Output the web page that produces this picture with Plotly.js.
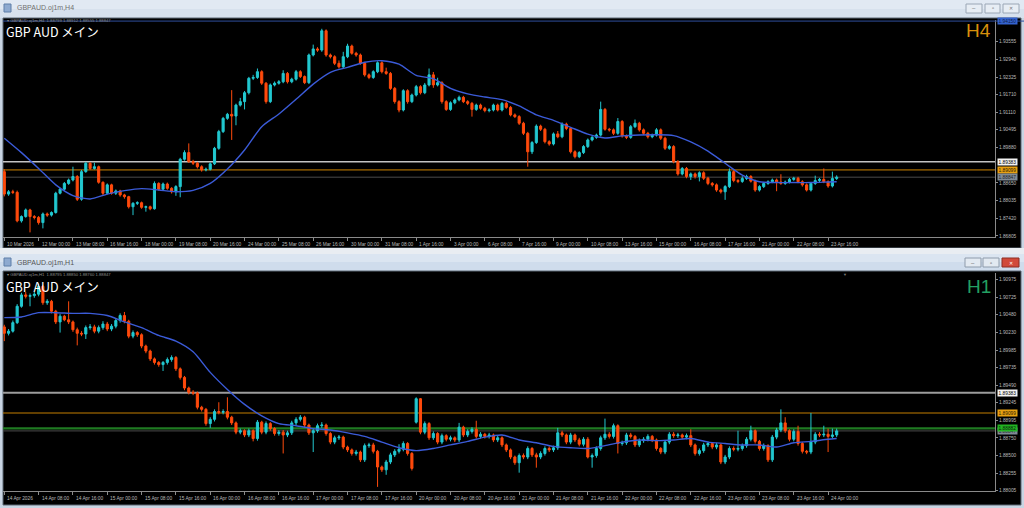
<!DOCTYPE html>
<html><head><meta charset="utf-8">
<script src="https://cdn.plot.ly/plotly-3.0.1.min.js"></script>
<style>html,body{margin:0;padding:0;background:#c9d5e3;overflow:hidden}#chart{width:1024px;height:508px}</style>
</head><body><div id="chart"></div>
<script>
// ---------------- H4 window data ----------------
const h4Labels = ["10 Mar 2026","12 Mar 00:00","13 Mar 08:00","16 Mar 16:00","18 Mar 00:00","19 Mar 08:00","20 Mar 16:00","24 Mar 00:00","25 Mar 08:00","26 Mar 16:00","30 Mar 00:00","31 Mar 08:00","1 Apr 16:00","3 Apr 00:00","6 Apr 08:00","7 Apr 16:00","9 Apr 00:00","10 Apr 08:00","13 Apr 16:00","15 Apr 00:00","16 Apr 08:00","17 Apr 16:00","21 Apr 00:00","22 Apr 08:00","23 Apr 16:00"];
const h4Close = [1.8826,1.8834,1.8832,1.8733,1.8748,1.8771,1.8748,1.8745,1.8727,1.8757,1.8753,1.8762,1.8829,1.8843,1.8863,1.8875,1.8887,1.8808,1.8904,1.8933,1.8915,1.8921,1.8867,1.8829,1.8858,1.8829,1.8837,1.8823,1.8817,1.8782,1.8794,1.8796,1.8780,1.8782,1.8775,1.8863,1.8843,1.8861,1.8846,1.8834,1.8852,1.8947,1.8970,1.8939,1.8933,1.8921,1.8910,1.8912,1.8931,1.8985,1.9043,1.9089,1.9103,1.9097,1.9135,1.9147,1.9178,1.9228,1.9231,1.9251,1.9211,1.9147,1.9205,1.9211,1.9216,1.9245,1.9216,1.9225,1.9251,1.9234,1.9213,1.9309,1.9330,1.9326,1.9393,1.9309,1.9303,1.9280,1.9268,1.9303,1.9340,1.9315,1.9309,1.9280,1.9240,1.9231,1.9251,1.9282,1.9251,1.9245,1.9193,1.9147,1.9118,1.9185,1.9147,1.9170,1.9199,1.9178,1.9205,1.9240,1.9205,1.9213,1.9147,1.9120,1.9143,1.9153,1.9162,1.9147,1.9141,1.9120,1.9135,1.9124,1.9116,1.9118,1.9135,1.9118,1.9141,1.9127,1.9101,1.9095,1.9072,1.9037,1.8973,1.9005,1.9062,1.9051,1.9008,1.9000,1.9035,1.9025,1.9069,1.9054,1.8973,1.8956,1.8970,1.8991,1.9014,1.9023,1.9031,1.9120,1.9051,1.9049,1.9037,1.9078,1.9028,1.9023,1.9060,1.9072,1.9049,1.9037,1.9025,1.9031,1.9049,1.9020,1.8985,1.8991,1.8939,1.8896,1.8915,1.8887,1.8896,1.8887,1.8900,1.8881,1.8863,1.8858,1.8840,1.8834,1.8852,1.8904,1.8873,1.8870,1.8880,1.8887,1.8871,1.8840,1.8852,1.8863,1.8869,1.8875,1.8868,1.8863,1.8868,1.8877,1.8881,1.8869,1.8858,1.8840,1.8863,1.8873,1.8877,1.8869,1.8854,1.8880,1.88847];
const h4Open = [1.8904,1.8826,1.8834,1.8832,1.8733,1.8748,1.8771,1.8748,1.8745,1.8727,1.8757,1.8753,1.8762,1.8829,1.8843,1.8863,1.8875,1.8887,1.8808,1.8904,1.8933,1.8915,1.8921,1.8867,1.8829,1.8858,1.8829,1.8837,1.8823,1.8817,1.8782,1.8794,1.8796,1.8780,1.8782,1.8775,1.8863,1.8843,1.8861,1.8846,1.8834,1.8852,1.8947,1.8970,1.8939,1.8933,1.8921,1.8910,1.8912,1.8931,1.8985,1.9043,1.9089,1.9103,1.9097,1.9135,1.9147,1.9178,1.9228,1.9231,1.9251,1.9211,1.9147,1.9205,1.9211,1.9216,1.9245,1.9216,1.9225,1.9251,1.9234,1.9213,1.9309,1.9330,1.9326,1.9393,1.9309,1.9303,1.9280,1.9268,1.9303,1.9340,1.9315,1.9309,1.9280,1.9240,1.9231,1.9251,1.9282,1.9251,1.9245,1.9193,1.9147,1.9118,1.9185,1.9147,1.9170,1.9199,1.9178,1.9205,1.9240,1.9205,1.9213,1.9147,1.9120,1.9143,1.9153,1.9162,1.9147,1.9141,1.9120,1.9135,1.9124,1.9116,1.9118,1.9135,1.9118,1.9141,1.9127,1.9101,1.9095,1.9072,1.9037,1.8973,1.9005,1.9062,1.9051,1.9008,1.9000,1.9035,1.9025,1.9069,1.9054,1.8973,1.8956,1.8970,1.8991,1.9014,1.9023,1.9031,1.9120,1.9051,1.9049,1.9037,1.9078,1.9028,1.9023,1.9060,1.9072,1.9049,1.9037,1.9025,1.9031,1.9049,1.9020,1.8985,1.8991,1.8939,1.8896,1.8915,1.8887,1.8896,1.8887,1.8900,1.8881,1.8863,1.8858,1.8840,1.8834,1.8852,1.8904,1.8873,1.8870,1.8880,1.8887,1.8871,1.8840,1.8852,1.8863,1.8869,1.8875,1.8868,1.8863,1.8868,1.8877,1.8881,1.8869,1.8858,1.8840,1.8863,1.8873,1.8877,1.8869,1.8854,1.8880];
const h4High = [1.8912,1.8840,1.8841,1.8838,1.8752,1.8776,1.8775,1.8753,1.8750,1.8762,1.8762,1.8766,1.8834,1.8848,1.8868,1.8880,1.8921,1.8892,1.8910,1.8938,1.8937,1.8935,1.8925,1.8870,1.8863,1.8862,1.8842,1.8841,1.8827,1.8820,1.8798,1.8801,1.8800,1.8786,1.8786,1.8870,1.8867,1.8866,1.8866,1.8850,1.8857,1.8952,1.8978,1.9002,1.8945,1.8938,1.8926,1.8918,1.8936,1.8990,1.9049,1.9094,1.9108,1.9187,1.9140,1.9160,1.9184,1.9233,1.9240,1.9262,1.9256,1.9215,1.9210,1.9217,1.9222,1.9256,1.9250,1.9230,1.9257,1.9256,1.9238,1.9314,1.9345,1.9336,1.9400,1.9398,1.9314,1.9308,1.9290,1.9320,1.9348,1.9345,1.9320,1.9314,1.9285,1.9245,1.9256,1.9287,1.9287,1.9265,1.9250,1.9198,1.9152,1.9190,1.9190,1.9175,1.9205,1.9204,1.9212,1.9262,1.9250,1.9230,1.9218,1.9152,1.9148,1.9158,1.9168,1.9167,1.9152,1.9146,1.9140,1.9140,1.9129,1.9124,1.9140,1.9140,1.9146,1.9147,1.9132,1.9106,1.9100,1.9077,1.9042,1.9010,1.9068,1.9067,1.9056,1.9013,1.9040,1.9045,1.9075,1.9074,1.9059,1.8978,1.8975,1.8996,1.9019,1.9028,1.9036,1.9147,1.9125,1.9056,1.9054,1.9090,1.9083,1.9033,1.9066,1.9085,1.9077,1.9054,1.9042,1.9036,1.9055,1.9054,1.9025,1.8997,1.8996,1.8944,1.8920,1.8920,1.8901,1.8901,1.8905,1.8905,1.8886,1.8868,1.8863,1.8845,1.8857,1.8915,1.8909,1.8878,1.8888,1.8893,1.8892,1.8876,1.8857,1.8868,1.8874,1.8880,1.8880,1.8895,1.8873,1.8882,1.8886,1.8886,1.8874,1.8863,1.8868,1.8890,1.8882,1.8915,1.8874,1.8904,1.8891];
const h4Low = [1.8818,1.8820,1.8826,1.8728,1.8727,1.8744,1.8693,1.8738,1.8720,1.8707,1.8747,1.8748,1.8758,1.8825,1.8838,1.8858,1.8870,1.8802,1.8803,1.8900,1.8910,1.8911,1.8862,1.8822,1.8825,1.8824,1.8823,1.8817,1.8810,1.8776,1.8753,1.8788,1.8775,1.8765,1.8770,1.8772,1.8838,1.8839,1.8841,1.8828,1.8820,1.8815,1.8942,1.8934,1.8927,1.8915,1.8904,1.8905,1.8908,1.8927,1.8980,1.9038,1.9084,1.9014,1.9065,1.9130,1.9120,1.9172,1.9222,1.9226,1.9205,1.9140,1.9142,1.9200,1.9206,1.9211,1.9210,1.9211,1.9220,1.9229,1.9208,1.9208,1.9304,1.9320,1.9320,1.9303,1.9297,1.9274,1.9262,1.9263,1.9298,1.9310,1.9303,1.9275,1.9234,1.9225,1.9226,1.9246,1.9245,1.9240,1.9188,1.9140,1.9110,1.9113,1.9140,1.9142,1.9165,1.9172,1.9173,1.9200,1.9195,1.9200,1.9140,1.9115,1.9115,1.9138,1.9148,1.9142,1.9135,1.9095,1.9115,1.9119,1.9110,1.9110,1.9113,1.9113,1.9113,1.9122,1.9096,1.9090,1.9066,1.9031,1.8921,1.8965,1.9000,1.9045,1.9002,1.8994,1.8995,1.9020,1.9020,1.9048,1.8967,1.8950,1.8951,1.8965,1.8986,1.9009,1.9018,1.9026,1.9046,1.9043,1.9031,1.9032,1.9022,1.9017,1.9018,1.9055,1.9043,1.9031,1.9019,1.9020,1.9026,1.9014,1.8979,1.8980,1.8933,1.8890,1.8891,1.8881,1.8875,1.8880,1.8870,1.8875,1.8857,1.8852,1.8834,1.8828,1.8806,1.8847,1.8867,1.8864,1.8865,1.8875,1.8866,1.8834,1.8835,1.8847,1.8858,1.8864,1.8836,1.8858,1.8858,1.8863,1.8872,1.8864,1.8852,1.8835,1.8835,1.8858,1.8868,1.8864,1.8848,1.8849,1.8875];
const h4MaIdx = [0,4,8,12,16,20,24,28,32,36,40,44,48,52,56,60,64,68,72,76,80,84,88,92,96,100,104,108,112,116,120,124,128,132,136,140,144,148,152,156,160,164,168,172,176,180,184,188,192,194];
const h4Ma = [1.9020,1.8970,1.8915,1.8858,1.8821,1.8809,1.8826,1.8838,1.8845,1.8840,1.8834,1.8839,1.8863,1.8913,1.8979,1.9060,1.9104,1.9155,1.9208,1.9249,1.9266,1.9284,1.9289,1.9277,1.9238,1.9227,1.9193,1.9174,1.9163,1.9154,1.9132,1.9101,1.9082,1.9058,1.9034,1.9021,1.9028,1.9031,1.9032,1.9029,1.9007,1.8975,1.8933,1.8892,1.8869,1.8866,1.8866,1.8866,1.8868,1.8869];
const h4YTicks = [1.93555,1.92940,1.92325,1.91710,1.91110,1.90495,1.89880,1.88650,1.88035,1.87420,1.86805];
const h4Levels = [1.89383,1.89099,1.88847];
const h4TopLevelText = "1.94150";

// ---------------- H1 window data ----------------
const h1Labels = ["14 Apr 2026","14 Apr 08:00","14 Apr 16:00","15 Apr 00:00","15 Apr 08:00","15 Apr 16:00","16 Apr 00:00","16 Apr 08:00","16 Apr 16:00","17 Apr 00:00","17 Apr 08:00","17 Apr 16:00","20 Apr 00:00","20 Apr 08:00","20 Apr 16:00","21 Apr 00:00","21 Apr 08:00","21 Apr 16:00","22 Apr 00:00","22 Apr 08:00","22 Apr 16:00","23 Apr 00:00","23 Apr 08:00","23 Apr 16:00","24 Apr 00:00"];
const h1Open = [1.9031,1.9022,1.9025,1.9037,1.9060,1.9076,1.9074,1.9075,1.9077,1.9088,1.9065,1.9067,1.9053,1.9038,1.9046,1.9041,1.9038,1.9027,1.9022,1.9021,1.9030,1.9031,1.9025,1.9030,1.9035,1.9028,1.9032,1.9040,1.9047,1.9039,1.9018,1.9023,1.9020,1.9004,1.8997,1.8986,1.8981,1.8978,1.8981,1.8985,1.8988,1.8972,1.8960,1.8945,1.8939,1.8938,1.8918,1.8915,1.8895,1.8901,1.8912,1.8911,1.8912,1.8904,1.8896,1.8883,1.8885,1.8879,1.8885,1.8874,1.8897,1.8883,1.8895,1.8888,1.8881,1.8883,1.8879,1.8882,1.8896,1.8901,1.8904,1.8893,1.8882,1.8885,1.8892,1.8893,1.8881,1.8869,1.8875,1.8876,1.8862,1.8858,1.8853,1.8855,1.8844,1.8864,1.8865,1.8856,1.8834,1.8830,1.8841,1.8851,1.8856,1.8859,1.8867,1.8853,1.8897,1.8930,1.8883,1.8895,1.8875,1.8881,1.8869,1.8878,1.8873,1.8875,1.8872,1.8890,1.8879,1.8884,1.8887,1.8877,1.8880,1.8877,1.8879,1.8872,1.8875,1.8865,1.8858,1.8848,1.8840,1.8850,1.8848,1.8860,1.8851,1.8848,1.8853,1.8860,1.8858,1.8861,1.8882,1.8879,1.8869,1.8879,1.8872,1.8866,1.8873,1.8848,1.8850,1.8860,1.8875,1.8880,1.8877,1.8892,1.8867,1.8868,1.8879,1.8877,1.8865,1.8871,1.8873,1.8877,1.8872,1.8860,1.8855,1.8869,1.8880,1.8878,1.8879,1.8876,1.8878,1.8865,1.8853,1.8857,1.8865,1.8867,1.8862,1.8865,1.8841,1.8848,1.8860,1.8859,1.8860,1.8864,1.8873,1.8885,1.8870,1.8860,1.8864,1.8844,1.8876,1.8886,1.8896,1.8885,1.8873,1.8884,1.8867,1.8856,1.8855,1.8869,1.8880,1.8879,1.8880,1.8877,1.8879];
const h1Close = [1.9022,1.9025,1.9037,1.9060,1.9076,1.9074,1.9075,1.9077,1.9088,1.9065,1.9067,1.9053,1.9038,1.9046,1.9041,1.9038,1.9027,1.9022,1.9021,1.9030,1.9031,1.9025,1.9030,1.9035,1.9028,1.9032,1.9040,1.9047,1.9039,1.9018,1.9023,1.9020,1.9004,1.8997,1.8986,1.8981,1.8978,1.8981,1.8985,1.8988,1.8972,1.8960,1.8945,1.8939,1.8938,1.8918,1.8915,1.8895,1.8901,1.8912,1.8911,1.8912,1.8904,1.8896,1.8883,1.8885,1.8879,1.8885,1.8874,1.8897,1.8883,1.8895,1.8888,1.8881,1.8883,1.8879,1.8882,1.8896,1.8901,1.8904,1.8893,1.8882,1.8885,1.8892,1.8893,1.8881,1.8869,1.8875,1.8876,1.8862,1.8858,1.8853,1.8855,1.8844,1.8864,1.8865,1.8856,1.8834,1.8830,1.8841,1.8851,1.8856,1.8859,1.8867,1.8853,1.8832,1.8930,1.8883,1.8895,1.8875,1.8881,1.8869,1.8878,1.8873,1.8875,1.8872,1.8890,1.8879,1.8884,1.8887,1.8877,1.8880,1.8877,1.8879,1.8872,1.8875,1.8865,1.8858,1.8848,1.8840,1.8850,1.8848,1.8860,1.8851,1.8848,1.8853,1.8860,1.8858,1.8861,1.8882,1.8879,1.8869,1.8879,1.8872,1.8866,1.8873,1.8848,1.8850,1.8860,1.8875,1.8880,1.8877,1.8892,1.8867,1.8868,1.8879,1.8877,1.8865,1.8871,1.8873,1.8877,1.8872,1.8860,1.8855,1.8869,1.8880,1.8878,1.8879,1.8876,1.8878,1.8865,1.8853,1.8857,1.8865,1.8867,1.8862,1.8865,1.8841,1.8848,1.8860,1.8859,1.8860,1.8864,1.8873,1.8885,1.8870,1.8860,1.8864,1.8844,1.8876,1.8886,1.8896,1.8885,1.8873,1.8884,1.8867,1.8856,1.8855,1.8869,1.8880,1.8879,1.8880,1.8877,1.8879,1.88847];
const h1High = [1.9034,1.9028,1.9040,1.9063,1.9079,1.9080,1.9078,1.9080,1.9092,1.9090,1.9070,1.9069,1.9055,1.9049,1.9048,1.9067,1.9040,1.9030,1.9025,1.9033,1.9035,1.9034,1.9033,1.9039,1.9038,1.9035,1.9043,1.9050,1.9052,1.9041,1.9026,1.9025,1.9022,1.9006,1.8999,1.8988,1.8983,1.8983,1.8988,1.8991,1.8990,1.8974,1.8962,1.8947,1.8942,1.8940,1.8920,1.8917,1.8904,1.8915,1.8925,1.8915,1.8932,1.8906,1.8898,1.8888,1.8887,1.8888,1.8887,1.8900,1.8899,1.8898,1.8897,1.8890,1.8886,1.8886,1.8885,1.8899,1.8904,1.8907,1.8906,1.8895,1.8888,1.8895,1.8897,1.8895,1.8883,1.8878,1.8879,1.8878,1.8864,1.8860,1.8858,1.8857,1.8867,1.8868,1.8868,1.8858,1.8836,1.8844,1.8854,1.8859,1.8866,1.8870,1.8869,1.8855,1.8932,1.8931,1.8898,1.8897,1.8884,1.8883,1.8881,1.8880,1.8878,1.8877,1.8896,1.8892,1.8887,1.8890,1.8899,1.8883,1.8882,1.8882,1.8881,1.8878,1.8877,1.8867,1.8860,1.8850,1.8853,1.8853,1.8863,1.8862,1.8854,1.8856,1.8863,1.8863,1.8864,1.8889,1.8885,1.8881,1.8882,1.8881,1.8875,1.8876,1.8876,1.8853,1.8863,1.8878,1.8902,1.8883,1.8895,1.8894,1.8871,1.8882,1.8882,1.8879,1.8874,1.8876,1.8880,1.8879,1.8874,1.8862,1.8872,1.8883,1.8883,1.8882,1.8881,1.8881,1.8887,1.8867,1.8860,1.8868,1.8870,1.8869,1.8868,1.8867,1.8851,1.8863,1.8863,1.8885,1.8867,1.8876,1.8892,1.8887,1.8872,1.8867,1.8866,1.8879,1.8889,1.8915,1.8904,1.8887,1.8887,1.8892,1.8869,1.8858,1.8910,1.8883,1.8883,1.8892,1.8888,1.8888,1.8888];
const h1Low = [1.9011,1.9019,1.9023,1.9035,1.9058,1.9071,1.9060,1.9072,1.9074,1.9062,1.9062,1.9050,1.9035,1.9023,1.9039,1.9035,1.9024,1.9005,1.9018,1.9014,1.9027,1.9022,1.9022,1.9027,1.9025,1.9025,1.9029,1.9037,1.9036,1.9015,1.9015,1.9017,1.9001,1.8994,1.8983,1.8978,1.8975,1.8969,1.8978,1.8982,1.8969,1.8957,1.8942,1.8936,1.8935,1.8915,1.8912,1.8892,1.8889,1.8898,1.8908,1.8908,1.8901,1.8893,1.8880,1.8880,1.8876,1.8876,1.8870,1.8871,1.8880,1.8880,1.8885,1.8878,1.8878,1.8853,1.8876,1.8879,1.8893,1.8898,1.8890,1.8879,1.8855,1.8882,1.8889,1.8878,1.8866,1.8866,1.8872,1.8859,1.8855,1.8850,1.8850,1.8841,1.8841,1.8861,1.8853,1.8806,1.8827,1.8823,1.8838,1.8848,1.8853,1.8856,1.8850,1.8829,1.8895,1.8880,1.8880,1.8872,1.8872,1.8866,1.8866,1.8870,1.8870,1.8869,1.8869,1.8876,1.8876,1.8881,1.8874,1.8874,1.8874,1.8874,1.8869,1.8869,1.8862,1.8855,1.8845,1.8837,1.8826,1.8845,1.8845,1.8848,1.8833,1.8845,1.8850,1.8855,1.8855,1.8858,1.8876,1.8866,1.8866,1.8869,1.8863,1.8863,1.8846,1.8833,1.8847,1.8857,1.8872,1.8874,1.8874,1.8853,1.8864,1.8865,1.8874,1.8862,1.8862,1.8868,1.8870,1.8869,1.8857,1.8852,1.8852,1.8866,1.8875,1.8875,1.8873,1.8873,1.8862,1.8850,1.8850,1.8854,1.8862,1.8859,1.8859,1.8838,1.8838,1.8845,1.8856,1.8856,1.8857,1.8861,1.8870,1.8867,1.8857,1.8857,1.8841,1.8841,1.8873,1.8883,1.8882,1.8870,1.8870,1.8864,1.8853,1.8852,1.8852,1.8866,1.8876,1.8876,1.8855,1.8874,1.8876];
const h1MaIdx = [0,4,8,12,16,20,24,28,32,36,40,44,48,52,56,60,64,68,72,76,80,84,88,92,96,100,104,108,112,116,120,124,128,132,136,140,144,148,152,156,160,164,168,172,176,180,184,188,192,194];
const h1Ma = [1.9044,1.9045,1.9051,1.9051,1.9050,1.9050,1.9047,1.9038,1.9030,1.9019,1.9011,1.8996,1.8967,1.8943,1.8922,1.8906,1.8895,1.8892,1.8888,1.8886,1.8882,1.8877,1.8869,1.8861,1.8857,1.8860,1.8865,1.8870,1.8876,1.8879,1.8872,1.8868,1.8863,1.8861,1.8860,1.8864,1.8869,1.8872,1.8871,1.8872,1.8874,1.8869,1.8867,1.8865,1.8865,1.8862,1.8868,1.8870,1.8873,1.8874];
const h1YTicks = [1.90975,1.90725,1.90480,1.90230,1.89985,1.89735,1.89490,1.89245,1.88995,1.88750,1.88500,1.88255,1.88005];
const h1Levels = [1.89383,1.89099,1.88847,1.88882];

// ---------------- layout helpers ----------------
const W = 1024, H = 508;
const px = v => v / W, py = v => 1 - v / H;
const BULL = '#22c8d0', BEAR = '#ff4a0c';
const AX = '#8a8a8a', TXT = '#b9b9b9', FF = 'Liberation Sans, Arial, sans-serif';
const shapes = [], ann = [];
function rect(x0, y0, x1, y1, fill, line, lw) {
  shapes.push({type:'rect', xref:'paper', yref:'paper', layer:'below', x0:px(x0), x1:px(x1), y0:py(y1), y1:py(y0),
    fillcolor:fill, line:{color:line || fill, width: lw === undefined ? 0 : lw}});
}
function txt(x, y, t, size, color, anchor, family) {
  ann.push({xref:'paper', yref:'paper', x:px(x), y:py(y), text:t, showarrow:false, xanchor:anchor || 'left', yanchor:'middle',
    font:{size:size, color:color, family:family || FF}});
}
// window chrome
rect(0, 0, 1024, 18, '#e1e9f3');
rect(0, 9, 1024, 18, '#d7e1ed');
rect(3, 18, 1021, 248, '#000000', '#5d6874', 1);
rect(0, 248, 1024, 254, '#e9edf2');
rect(0, 254, 1024, 271, '#cfdcec');
rect(0, 254, 1024, 262, '#dbe5f1');
rect(3, 271, 1021, 505, '#000000', '#5d6874', 1);
rect(4, 4, 11, 12, '#8eaad0', '#5f7ea8', 1);
rect(4, 258, 11, 266, '#8eaad0', '#5f7ea8', 1);
txt(15, 8.5, 'GBPAUD.oj1m,H4', 7, '#707070');
txt(15, 262.5, 'GBPAUD.oj1m,H1', 7, '#555555');
[[966,982],[985,1000],[1003,1019]].forEach(b => rect(b[0], 4, b[1], 13, '#e7edf4', '#9aa6b5', 1));
[[965,981],[983,999]].forEach(b => rect(b[0], 258, b[1], 267, '#e2e9f1', '#8e9bab', 1));
rect(1002, 258, 1019, 267, '#d14a3a', '#8d2d22', 1);
txt(974, 8.5, '–', 6, '#666', 'center'); txt(992.5, 8.5, '▫', 6, '#666', 'center'); txt(1011, 8.5, '✕', 5, '#777', 'center');
txt(973, 262.5, '–', 6, '#555', 'center'); txt(991, 262.5, '▫', 6, '#555', 'center'); txt(1010.5, 262.5, '✕', 5, '#ffffff', 'center');

// chart texts
txt(5, 20.6, '▾ GBPAUD.oj1m,H4  1.88799 1.88912 1.88555 1.88847', 4.2, '#8c8c8c');
txt(5, 274.6, '▾ GBPAUD.oj1m,H1  1.88795 1.88850 1.88760 1.88847', 4.2, '#8c8c8c');
txt(4, 31, 'GBP AUD メイン', 12.5, '#ffffff', 'left', 'Noto Sans CJK JP, Liberation Sans, sans-serif');
txt(4, 286, 'GBP AUD メイン', 12.5, '#ffffff', 'left', 'Noto Sans CJK JP, Liberation Sans, sans-serif');
txt(993, 30, 'H4', 19, '#d8900c', 'right');
txt(993, 286, 'H1', 19, '#23a062', 'right');
txt(845, 274, '▼', 4, '#7a7a7a', 'center');

// x labels (left-anchored after tick mark, like the terminal)
const h4TickIdx = h4Labels.map((_, k) => k * 8);
const h1TickIdx = h1Labels.map((_, k) => k * 8);
h4Labels.forEach((t, k) => ann.push({xref:'x', yref:'paper', x:h4TickIdx[k], y:py(239.5), xanchor:'left', yanchor:'top', xshift:1,
  text:t, showarrow:false, font:{size:4.8, color:TXT, family:FF}}));
h1Labels.forEach((t, k) => ann.push({xref:'x2', yref:'paper', x:h1TickIdx[k], y:py(494), xanchor:'left', yanchor:'top', xshift:1,
  text:t, showarrow:false, font:{size:4.8, color:TXT, family:FF}}));

// level lines
const h4LvlStyle = [['#c4c4c4',1.5],['#cf8400',1],['#4b4b4b',1]];
h4Levels.forEach((v, k) => shapes.push({type:'line', xref:'x domain', yref:'y', x0:0, x1:1, y0:v, y1:v, layer:'below',
  line:{color:h4LvlStyle[k][0], width:h4LvlStyle[k][1]}}));
shapes.push({type:'line', xref:'x domain', yref:'y domain', x0:0, x1:1.03, y0:0.995, y1:0.995, line:{color:'#2f4f9e', width:1}});
const h1LvlStyle = [['#9c9c9c',2],['#c47e00',1],['#4b4b4b',1],['#1f7a22',2.2]];
h1Levels.forEach((v, k) => shapes.push({type:'line', xref:'x2 domain', yref:'y2', x0:0, x1:1, y0:v, y1:v, layer:'below',
  line:{color:h1LvlStyle[k][0], width:h1LvlStyle[k][1]}}));

// right-side price boxes
function pbox(yref, v, text, bg, fg) {
  ann.push({xref:'paper', yref:yref, x:px(997), y:v, xanchor:'left', yanchor:'middle', text:text, showarrow:false,
    bgcolor:bg, borderpad:0.6, font:{size:4.8, color:fg, family:FF}});
}
ann.push({xref:'paper', yref:'y domain', x:px(997), y:0.995, xanchor:'left', yanchor:'middle', text:h4TopLevelText, showarrow:false,
  bgcolor:'#3463cf', borderpad:0.6, font:{size:4.8, color:'#10204a', family:FF}});
pbox('y', h4Levels[0], h4Levels[0].toFixed(5), '#f2f2f2', '#000');
pbox('y', h4Levels[1], h4Levels[1].toFixed(5), '#e8a112', '#2a1800');
pbox('y', h4Levels[2], h4Levels[2].toFixed(5), '#7f8a95', '#1d2228');
pbox('y2', h1Levels[0], h1Levels[0].toFixed(5), '#f2f2f2', '#000');
pbox('y2', h1Levels[1], h1Levels[1].toFixed(5), '#e8a112', '#2a1800');
pbox('y2', h1Levels[2], h1Levels[2].toFixed(5), '#7f8a95', '#1d2228');
pbox('y2', h1Levels[3], h1Levels[3].toFixed(5), '#22b422', '#062006');

const idx = n => Array.from({length:n}, (_, i) => i);
const candle = (o, h, l, c, xa, ya) => ({type:'candlestick', x:idx(c.length), open:o, high:h, low:l, close:c, xaxis:xa, yaxis:ya,
  increasing:{line:{color:BULL, width:1}, fillcolor:BULL}, decreasing:{line:{color:BEAR, width:1}, fillcolor:BEAR},
  whiskerwidth:0, hoverinfo:'skip', showlegend:false});
const maLine = (x, y, xa, ya) => ({type:'scatter', mode:'lines', x:x, y:y, xaxis:xa, yaxis:ya,
  line:{color:'#3b5bd8', width:1.4, shape:'spline', smoothing:0.7}, hoverinfo:'skip', showlegend:false});

const xBase = {showgrid:false, zeroline:false, showline:true, linecolor:AX, linewidth:1, ticks:'outside', ticklen:3,
  tickwidth:1, tickcolor:AX, showticklabels:false, rangeslider:{visible:false}, fixedrange:true, range:[-0.3, 230.9]};
const yBase = {showgrid:false, zeroline:false, showline:true, linecolor:AX, linewidth:1, side:'right', ticks:'outside',
  ticklen:2, tickwidth:1, tickcolor:AX, tickfont:{size:4.8, color:TXT, family:FF}, fixedrange:true};

const layout = {
  width:W, height:H, margin:{l:0, r:0, t:0, b:0}, paper_bgcolor:'#c9d5e3', plot_bgcolor:'#000000',
  showlegend:false, hovermode:false, dragmode:false,
  xaxis: Object.assign({}, xBase, {domain:[px(3), px(995)], anchor:'y', tickvals:h4TickIdx}),
  yaxis: Object.assign({}, yBase, {domain:[py(237), py(20)], anchor:'x', range:[1.8677, 1.94305],
    tickvals:h4YTicks, ticktext:h4YTicks.map(v => v.toFixed(5))}),
  xaxis2: Object.assign({}, xBase, {domain:[px(3), px(995)], anchor:'y2', tickvals:h1TickIdx}),
  yaxis2: Object.assign({}, yBase, {domain:[py(491), py(273)], anchor:'x2', range:[1.88002, 1.91068],
    tickvals:h1YTicks, ticktext:h1YTicks.map(v => v.toFixed(5))}),
  shapes:shapes, annotations:ann
};
Plotly.newPlot('chart', [
  candle(h4Open, h4High, h4Low, h4Close, 'x', 'y'), maLine(h4MaIdx, h4Ma, 'x', 'y'),
  candle(h1Open, h1High, h1Low, h1Close, 'x2', 'y2'), maLine(h1MaIdx, h1Ma, 'x2', 'y2')
], layout, {displayModeBar:false, staticPlot:true});
</script></body></html>
